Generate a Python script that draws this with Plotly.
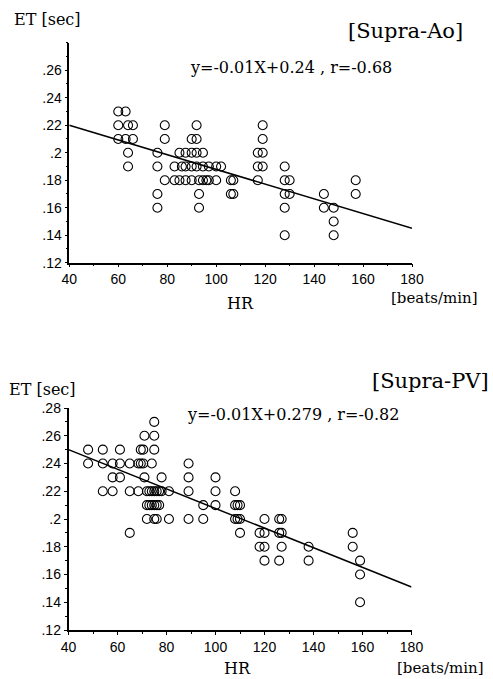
import plotly.graph_objects as go

W, H = 493, 679

# ---------------- Data: Supra-Ao ----------------
ao_hr = [60, 60, 60, 63, 63, 64, 64, 64, 66, 66,
         76, 76, 76, 76, 79, 79, 79, 83, 83, 85, 85, 86,
         87.5, 87.5, 87.5, 90, 90, 90, 90, 92, 92, 92, 92,
         93, 93, 93, 94.6, 94.6, 94.6, 96, 97, 97, 100, 100, 102,
         106, 106, 107, 107, 117, 117, 117, 119, 119, 119, 119,
         128, 128, 128, 128, 128, 130, 130, 144, 144, 148, 148, 148, 157, 157]
ao_et = [.23, .22, .21, .23, .21, .22, .20, .19, .22, .21,
         .20, .19, .17, .16, .22, .21, .18, .19, .18, .20, .18, .19,
         .20, .19, .18, .20, .19, .18, .21, .22, .20, .19, .21,
         .17, .16, .18, .20, .19, .18, .18, .19, .18, .19, .18, .19,
         .18, .17, .18, .17, .20, .19, .18, .22, .21, .20, .19,
         .19, .18, .17, .16, .14, .18, .17, .17, .16, .16, .15, .14, .18, .17]
ao_line_x = [40, 180]
ao_line_y = [0.22, 0.145]

# ---------------- Data: Supra-PV ----------------
pv_hr = [48, 48, 54, 54, 54, 58, 58, 58, 61, 61, 61, 65, 65, 65,
         68.5, 68.5, 69.5, 69.5, 70.5, 70.5, 71, 71, 72, 72, 72, 73, 73,
         74, 74, 74, 75, 75, 75, 75, 75, 75, 76, 76, 76, 77, 77, 78, 78,
         81, 81, 89, 89, 89, 89, 95, 95, 100, 100, 100,
         108, 108, 108, 109, 109, 110, 110, 110, 118, 118,
         120, 120, 120, 120, 126, 126, 126, 127, 127, 127,
         138, 138, 156, 156, 159, 159, 159]
pv_et = [.25, .24, .25, .24, .22, .24, .23, .22, .25, .24, .23, .24, .22, .19,
         .24, .22, .25, .24, .25, .24, .26, .23, .22, .21, .20, .22, .21,
         .24, .22, .21, .27, .26, .25, .22, .21, .20, .22, .21, .20, .22, .21, .23, .22,
         .22, .20, .24, .23, .22, .20, .21, .20, .23, .22, .21,
         .22, .21, .20, .21, .20, .21, .20, .19, .19, .18,
         .20, .19, .18, .17, .20, .19, .17, .20, .19, .18,
         .18, .17, .19, .18, .17, .16, .14]
pv_line_x = [40, 180]
pv_line_y = [0.25, 0.151]

y_ticks = [.12, .14, .16, .18, .20, .22, .24, .26, .28]
y_ticktext = [".12", ".14", ".16", ".18", ".2", ".22", ".24", ".26", ".28"]
x_ticks = [40, 60, 80, 100, 120, 140, 160, 180]

SERIF = "DejaVu Serif"
SANS = "Liberation Sans, Arial"


def px(x):
    return x / W


def py(y):
    return 1 - y / H


fig = go.Figure()

marker = dict(symbol="circle-open", size=9, color="black", line=dict(width=1.1, color="black"))

fig.add_trace(go.Scatter(x=ao_hr, y=ao_et, mode="markers", marker=marker,
                         xaxis="x", yaxis="y", showlegend=False))
fig.add_trace(go.Scatter(x=ao_line_x, y=ao_line_y, mode="lines",
                         line=dict(color="black", width=1.5), xaxis="x", yaxis="y", showlegend=False))
fig.add_trace(go.Scatter(x=pv_hr, y=pv_et, mode="markers", marker=marker,
                         xaxis="x2", yaxis="y2", showlegend=False))
fig.add_trace(go.Scatter(x=pv_line_x, y=pv_line_y, mode="lines",
                         line=dict(color="black", width=1.5), xaxis="x2", yaxis="y2", showlegend=False))

common_x = dict(range=[40, 180], tickvals=x_ticks, showgrid=False, zeroline=False,
                showline=True, linecolor="black", linewidth=1.5, ticks="outside",
                ticklen=3, tickcolor="black", tickfont=dict(family=SANS, size=14, color="black"),
                minor=dict(ticks="outside", ticklen=2, dtick=10, tickcolor="black"),
                ticklabelstandoff=0, automargin=False)
common_y = dict(range=[0.12, 0.28], showgrid=False, zeroline=False,
                showline=True, linecolor="black", linewidth=1.5, ticks="outside",
                ticklen=3, tickcolor="black", tickfont=dict(family=SANS, size=14, color="black"),
                minor=dict(ticks="outside", ticklen=2, dtick=0.01, tickcolor="black"),
                ticklabelstandoff=0, automargin=False)

fig.update_layout(
    width=W, height=H, autosize=False,
    margin=dict(l=0, r=0, t=0, b=0, pad=0),
    paper_bgcolor="white", plot_bgcolor="white",
    xaxis=dict(domain=[px(69.3), px(412)], anchor="y", **common_x),
    yaxis=dict(domain=[py(262.7), py(42.7)], anchor="x",
               tickvals=y_ticks[:-1], ticktext=y_ticktext[:-1], **common_y),
    xaxis2=dict(domain=[px(68.5), px(411.5)], anchor="y2", **common_x),
    yaxis2=dict(domain=[py(630), py(408)], anchor="x2",
                tickvals=y_ticks, ticktext=y_ticktext, **common_y),
)


def note(text, x, y, size, family=SERIF, xanchor="center"):
    fig.add_annotation(text=text, x=px(x), y=py(y), xref="paper", yref="paper",
                       showarrow=False, xanchor=xanchor, yanchor="middle",
                       font=dict(family=family, size=size, color="black"))


# top chart texts
note("ET [sec]", 12, 19, 16, xanchor="left")
note("[Supra-Ao]", 405, 31, 21)
note("y=-0.01X+0.24 , r=-0.68", 291, 68, 16)
note("HR", 240, 303, 16)
note("[beats/min]", 434, 298, 15)

# bottom chart texts
note("ET [sec]", 7, 389, 16, xanchor="left")
note("[Supra-PV]", 430, 381, 21)
note("y=-0.01X+0.279 , r=-0.82", 293, 414, 16)
note("HR", 237, 668, 16)
note("[beats/min]", 440, 668, 15)

fig.write_html("out.html",
               config={"displayModeBar": False},
               post_script="document.body.style.margin='0';document.body.style.overflow='hidden';")
